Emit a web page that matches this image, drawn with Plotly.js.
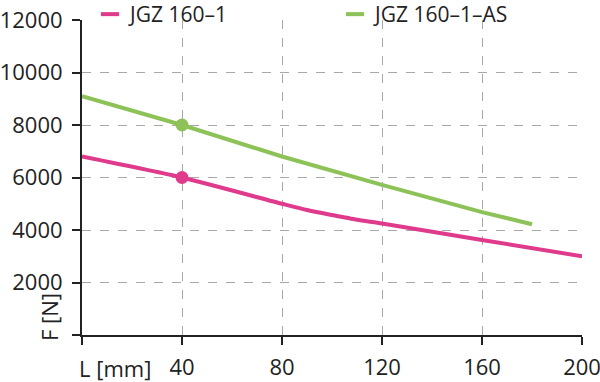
<!DOCTYPE html>
<html>
<head>
<meta charset="utf-8">
<script src="https://cdn.plot.ly/plotly-3.0.1.min.js"></script>
<style>html,body{margin:0;padding:0;background:#fff;}#chart{width:600px;height:382px;}</style>
</head>
<body>
<div id="chart"></div>
<script>
const seriesNames = ['JGZ 160\u20131', 'JGZ 160\u20131\u2013AS'];
const xPink = [0, 40, 80, 90, 100, 110, 120, 160, 200];
const yPink = [6800, 6000, 5000, 4760, 4570, 4390, 4250, 3620, 3000];
const xGreen = [0, 40, 80, 120, 160, 180];
const yGreen = [9100, 8000, 6800, 5720, 4680, 4220];
const markX = [40];
const markPink = [6000];
const markGreen = [8000];
const xTickVals = [0, 40, 80, 120, 160, 200];
const xTickText = ['', '40', '80', '120', '160', '200'];
const yTickVals = [0, 2000, 4000, 6000, 8000, 10000, 12000];
const yTickText = ['', '2000', '4000', '6000', '8000', '10000', '12000'];
const yGridVals = [2000, 4000, 6000, 8000, 10000];
const xLabel = 'L [mm]';
const yLabel = 'F [N]';

const pink = '#df3a8b';
const green = '#8cc257';
const FONT = 'Open Sans, Noto Sans, sans-serif';

const traces = [
  {x: xPink, y: yPink, mode: 'lines', line: {color: pink, width: 4, shape: 'spline', smoothing: 0.6}, showlegend: false, hoverinfo: 'skip'},
  {x: xGreen, y: yGreen, mode: 'lines', line: {color: green, width: 4}, showlegend: false, hoverinfo: 'skip'},
  {x: markX, y: markPink, mode: 'markers', marker: {color: pink, size: 13}, showlegend: false},
  {x: markX, y: markGreen, mode: 'markers', marker: {color: green, size: 13}, showlegend: false},
  {x: [null], y: [null], name: seriesNames[0], mode: 'markers', marker: {symbol: 'line-ew', size: 13, line: {color: pink, width: 4}}},
  {x: [null], y: [null], name: seriesNames[1], mode: 'markers', marker: {symbol: 'line-ew', size: 13, line: {color: green, width: 4}}},
  {x: [0], y: [0], yaxis: 'y2', mode: 'markers', marker: {opacity: 0}, showlegend: false, hoverinfo: 'skip'}
];

const layout = {
  width: 600, height: 382,
  margin: {l: 82, r: 18, t: 20, b: 47, autoexpand: false},
  paper_bgcolor: '#fff', plot_bgcolor: '#fff',
  font: {family: FONT, size: 22, color: '#222'},
  showlegend: true,
  legend: {orientation: 'h', x: 0.016, xanchor: 'left', y: 1.0175, yanchor: 'middle',
           entrywidth: 200, entrywidthmode: 'pixels', font: {family: FONT, size: 21, color: '#222'},
           bgcolor: 'rgba(0,0,0,0)'},
  xaxis: {range: [0, 200], tickvals: xTickVals, ticktext: xTickText, showgrid: true,
          gridcolor: '#a8a8a8', griddash: 'dash', gridwidth: 1, zeroline: false,
          showline: true, linecolor: '#222', linewidth: 2, ticks: 'outside', ticklen: 8,
          tickwidth: 2, tickcolor: '#222', fixedrange: true, automargin: false, ticklabelstandoff: 4,
          ticklabeloverflow: 'allow'},
  yaxis: {range: [0, 12000], tickvals: yTickVals, ticktext: yTickText, showgrid: false,
          zeroline: false, showline: true, linecolor: '#222', linewidth: 2,
          ticks: 'outside', ticklen: 8, tickwidth: 2, tickcolor: '#222', fixedrange: true, automargin: false,
          ticklabelstandoff: 5, ticklabeloverflow: 'allow'},
  yaxis2: {range: [0, 12000], overlaying: 'y', tickvals: yGridVals, showticklabels: false,
           ticks: '', showgrid: true, gridcolor: '#a8a8a8', griddash: 'dash', gridwidth: 1,
           zeroline: false, showline: false, fixedrange: true},
  annotations: [
    {text: xLabel, xref: 'paper', yref: 'paper', x: 0.066, y: -0.104, xanchor: 'center', yanchor: 'middle', showarrow: false, font: {family: FONT, size: 22, color: '#222'}},
    {text: yLabel, xref: 'paper', yref: 'paper', x: -0.066, y: 0.057, xanchor: 'center', yanchor: 'middle', textangle: -90, showarrow: false, font: {family: FONT, size: 22, color: '#222'}}
  ]
};

Plotly.newPlot('chart', traces, layout, {displayModeBar: false, staticPlot: true});
</script>
</body>
</html>
